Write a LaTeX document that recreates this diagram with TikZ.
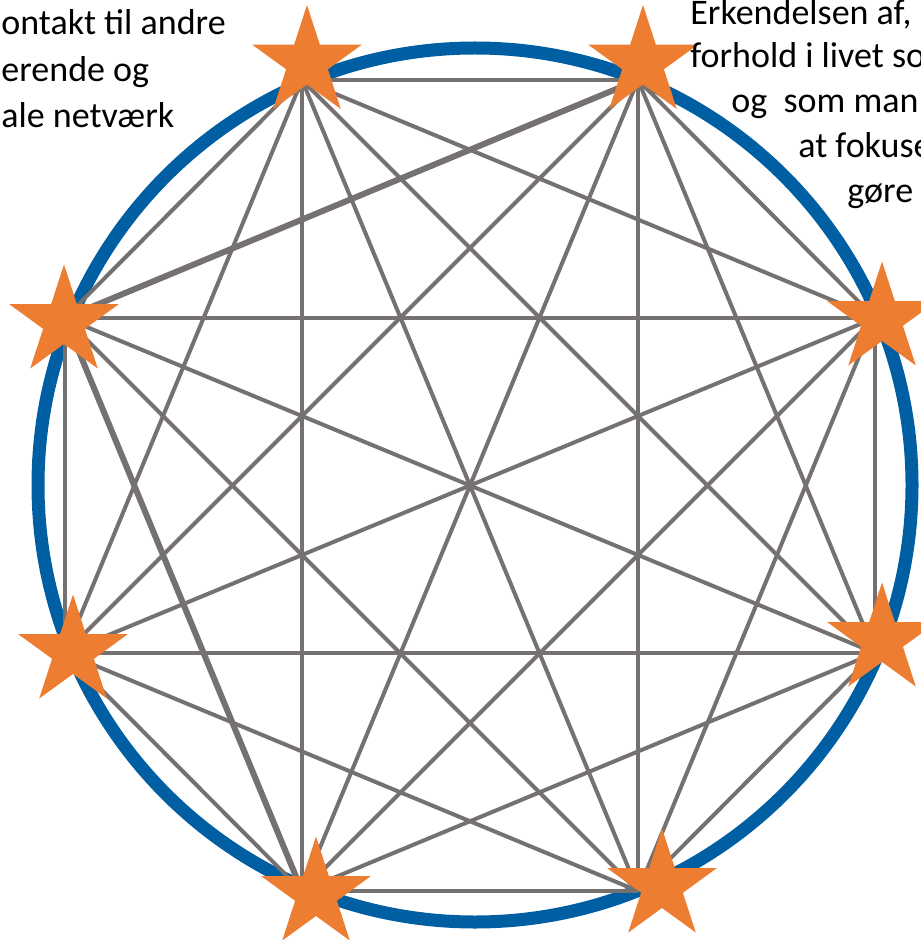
\documentclass[tikz,border=0pt]{standalone}
\usepackage{fontspec}
\setmainfont{Carlito}
\usepackage{xcolor}
\usetikzlibrary{shapes.geometric}

\definecolor{ringblue}{RGB}{0,94,162}
\definecolor{linegray}{RGB}{118,113,113}
\definecolor{starorange}{RGB}{237,125,49}

\begin{document}
\begin{tikzpicture}[x=0.5pt,y=-0.5pt,
  ring/.style={draw=ringblue,line width=6.5pt},
  edge/.style={draw=linegray,line width=2pt},
  heavy/.style={edge,line width=3pt},
  starnode/.style={star,star points=5,star point ratio=2.618,fill=starorange,
    minimum size=57.5pt,inner sep=0pt},
  txt/.style={anchor=base west,inner sep=0pt,font=\fontsize{18}{22}\selectfont}]
\useasboundingbox (0,0) rectangle (920,940);

% blue ring
\coordinate (o) at (475,485);
\draw[ring] (o) circle[radius=218.5pt];

% corners of the octagon
\coordinate (v1) at (302,80);
\coordinate (v2) at (638,80);
\coordinate (v3) at (875,318);
\coordinate (v4) at (875,653);
\coordinate (v5) at (638,891);
\coordinate (v6) at (302,891);
\coordinate (v7) at (65,653);
\coordinate (v8) at (65,318);

% every corner joined to every other one
\foreach \i [evaluate=\i as \k using int(\i+1)] in {1,...,7}
  \foreach \j in {\k,...,8}
    \draw[edge] (v\i) -- (v\j);
\draw[heavy] (v2) -- (v8);
\draw[heavy] (v8) -- (v6);

% stars
\foreach \n/\x/\y in {1/307/62.5,2/643/62.5,3/882/319,4/882/640,
                      5/662/886,6/316/894,7/73/652,8/64/322}
  \node[starnode] (s\n) at (\x,\y) {};

% texts, cut at the page edge
\node[txt] (tl1) at (1,35) {ontakt til andre};
\node[txt] (tl2) at (1,82) {erende og};
\node[txt] (tl3) at (1,128) {ale netværk};
\node[txt] (tr1) at (690,25) {Erkendelsen af,};
\node[txt] (tr2) at (690,68) {forhold i livet so};
\node[txt] (tr3) at (731,113) {og\ \ som man};
\node[txt] (tr4) at (798,158) {at fokuse};
\node[txt] (tr5) at (847,203) {gøre};
\end{tikzpicture}
\end{document}
